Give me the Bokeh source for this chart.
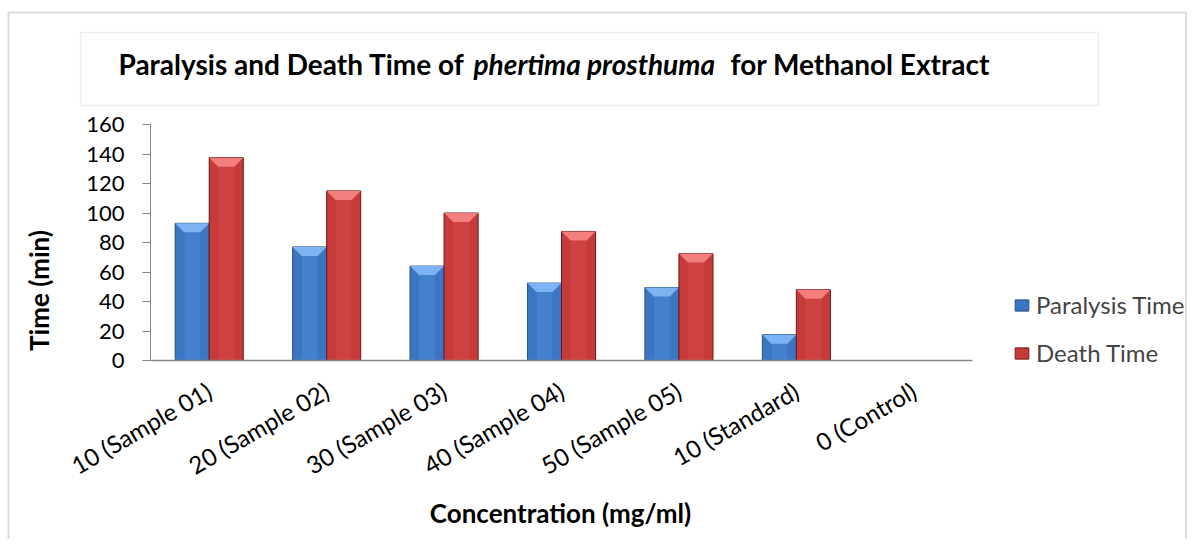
import math
import numpy as np
from bokeh.plotting import figure
from bokeh.models import (Range1d, FixedTicker, Label, BoxAnnotation, Legend,
                          LegendItem, ColumnDataSource, LinearAxis)
from bokeh.embed import file_html
from bokeh.resources import INLINE

# ---------------- data ----------------
categories = ["10 (Sample 01)", "20 (Sample 02)", "30 (Sample 03)",
              "40 (Sample 04)", "50 (Sample 05)", "10 (Standard)", "0 (Control)"]
paralysis_time = [93, 77, 64, 52.5, 49.5, 17.5, 0]
death_time = [137.5, 115, 100, 87.5, 72.5, 48, 0]
series_names = ["Paralysis Time", "Death Time"]
y_ticks = [0, 20, 40, 60, 80, 100, 120, 140, 160]
title_parts = ["Paralysis and Death Time of", "phertima prosthuma", "for Methanol Extract"]
x_title = "Concentration (mg/ml)"
y_title = "Time (min)"

FONT = "Lato"
BAR_W = 0.29
W, H = 1187, 539

# ---------------- layout geometry (pixels) ----------------
PLOT_L, PLOT_R, PLOT_T, PLOT_B = 150, 972, 124, 360
n = len(categories)
ppx = (PLOT_R - PLOT_L) / n          # pixels per category
ppy = (PLOT_B - PLOT_T) / 160.0      # pixels per minute
x0 = -0.5 - PLOT_L / ppx
y0 = -(H - PLOT_B) / ppy

p = figure(width=W, height=H, x_range=Range1d(x0, x0 + W / ppx),
           y_range=Range1d(y0, y0 + H / ppy), output_backend="svg",
           toolbar_location=None, x_axis_location=None, y_axis_location=None,
           min_border_left=0, min_border_right=0, min_border_top=0,
           min_border_bottom=0)
p.xgrid.visible = False
p.ygrid.visible = False
p.outline_line_color = None
p.background_fill_color = "white"
p.border_fill_color = "white"

idx = np.arange(n)


def bars(values, offset, base, edge, light, cap):
    xs = idx + offset
    src = ColumnDataSource(dict(x=xs, top=values))
    r = p.vbar(x="x", top="top", bottom=0, width=BAR_W, source=src,
               fill_color=base, line_color=edge, line_width=1)
    hx, htop, cx, cy = [], [], [], []
    bw = 9 / ppx
    bh = 9 / ppy
    for x, v in zip(xs, values):
        if v > bh:
            hx.append(x)
            htop.append(v - bh)
            cx.append([x - BAR_W / 2, x + BAR_W / 2, x + BAR_W / 2 - bw, x - BAR_W / 2 + bw])
            cy.append([v, v, v - bh, v - bh])
    p.vbar(x=hx, top=htop, bottom=0, width=BAR_W * 0.45, fill_color=light,
           fill_alpha=0.35, line_color=None)
    p.patches(cx, cy, fill_color=cap, line_color=None)
    return r


r_blue = bars(paralysis_time, -BAR_W / 2, "#3b76c2", "#27507f", "#5796e0", "#7db3f2")
r_red = bars(death_time, BAR_W / 2, "#c63a3a", "#6e1616", "#de5252", "#f27e7e")

# y axis (fixed at the left edge of the category area)
ya = LinearAxis(fixed_location=-0.5, bounds=(0, 160), ticker=FixedTicker(ticks=y_ticks))
ya.minor_tick_line_color = None
ya.major_tick_in = 0
ya.major_tick_out = 8
ya.axis_line_color = "#868686"
ya.major_tick_line_color = "#868686"
ya.major_label_text_font = FONT
ya.major_label_text_font_size = "22px"
ya.major_label_text_color = "black"
ya.major_label_standoff = 18
p.add_layout(ya, "left")

# x axis (fixed at zero)
xa = LinearAxis(fixed_location=0, bounds=(-0.5, n - 0.5),
                ticker=FixedTicker(ticks=list(range(n))))
xa.major_label_overrides = {i: c for i, c in enumerate(categories)}
xa.minor_tick_line_color = None
xa.major_tick_line_color = None
xa.major_tick_in = 0
xa.major_tick_out = 0
xa.axis_line_color = "#868686"
xa.axis_line_width = 1.5
xa.major_label_orientation = math.pi / 6
xa.major_label_text_font = FONT
xa.major_label_text_font_size = "24px"
xa.major_label_text_color = "black"
xa.major_label_standoff = 28
p.add_layout(xa, "below")


def sy(py):
    return H - py


# outer chart border and title box
p.add_layout(BoxAnnotation(left=8, right=W - 1.5, top=sy(12), bottom=-20,
                           left_units="screen", right_units="screen",
                           top_units="screen", bottom_units="screen",
                           fill_alpha=0, line_color="#8a8a8a", line_width=2))
p.add_layout(BoxAnnotation(left=80, right=1098, top=sy(32), bottom=sy(105),
                           left_units="screen", right_units="screen",
                           top_units="screen", bottom_units="screen",
                           fill_alpha=0, line_color="#c8c8c8", line_width=1.5))

title_x = [118, 473, 730]
title_style = ["bold", "bold italic", "bold"]
for t, x, s in zip(title_parts, title_x, title_style):
    p.add_layout(Label(x=x, y=sy(63), x_units="screen", y_units="screen", text=t,
                       text_font=FONT, text_font_size="28px", text_font_style=s,
                       text_baseline="alphabetic", text_align="left", text_color="black"))

p.add_layout(Label(x=38, y=sy(290), x_units="screen", y_units="screen", text=y_title,
                   angle=math.pi / 2, text_font=FONT, text_font_size="26px",
                   text_font_style="bold", text_align="center", text_baseline="middle",
                   text_color="black"))
p.add_layout(Label(x=560, y=sy(512), x_units="screen", y_units="screen", text=x_title,
                   text_font=FONT, text_font_size="26px", text_font_style="bold",
                   text_align="center", text_baseline="middle", text_color="black"))

legend = Legend(items=[LegendItem(label=series_names[0], renderers=[r_blue]),
                       LegendItem(label=series_names[1], renderers=[r_red])],
                location=(1013, sy(367)), orientation="vertical", border_line_color=None,
                background_fill_alpha=0, padding=0, margin=0, glyph_width=17,
                glyph_height=14, label_text_font=FONT, label_text_font_size="24px",
                label_standoff=6, spacing=19)
p.add_layout(legend)

open("out.html", "w").write(file_html(p, INLINE))
